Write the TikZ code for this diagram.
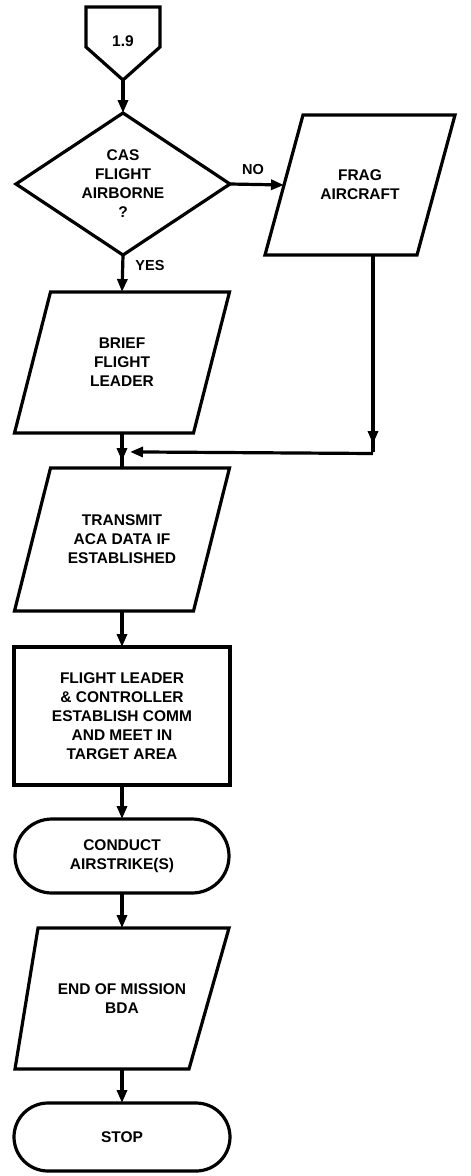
\documentclass[tikz,border=0pt]{standalone}
\usepackage{fontspec}
\setmainfont{Liberation Sans}
\usetikzlibrary{arrows.meta,calc,decorations.markings}

% outline of a slanted input/output box around a named node
\newcommand\slantbox[2]{%
  \draw[outline] ($(#1.north west)+(#2,0)$) -- (#1.north east)
    -- ($(#1.south east)+(-#2,0)$) -- (#1.south west) -- cycle;}

\begin{document}
\begin{tikzpicture}[x=1pt,y=-1pt,
  >={Triangle[width=10pt,length=13pt]},
  every node/.style={font=\bfseries\fontsize{15.5}{19}\selectfont},
  box/.style={draw=none, inner sep=0pt, outer sep=0pt, align=center},
  outline/.style={draw=black, line width=3.2pt, line join=miter},
  flow/.style={draw=black, line width=3.2pt, ->},
  midarrow/.style={draw=black, line width=3.2pt, postaction={decorate},
    decoration={markings, mark=at position #1 with {\arrow{>}}}},
  tag/.style={font=\bfseries\fontsize{14.5}{17}\selectfont}
]
\useasboundingbox (0,0) rectangle (471,1176);

% off-page connector
\node[box, minimum width=74, minimum height=73] (conn) at (123,43.5) {\raisebox{4pt}{1.9}};
\draw[outline] (conn.north west) -- (conn.north east) -- ($(conn.east)+(0,3.5)$)
  -- (conn.south) -- ($(conn.west)+(0,3.5)$) -- cycle;

% decision
\node[box, minimum width=214, minimum height=142] (cas) at (123,184)
  {CAS\\FLIGHT\\AIRBORNE\\?};
\draw[outline] (cas.north) -- (cas.east) -- (cas.south) -- (cas.west) -- cycle;

% side branch
\node[box, minimum width=190, minimum height=140] (frag) at (360,185)
  {FRAG\\AIRCRAFT};
\slantbox{frag}{38}

% main column
\node[box, minimum width=215, minimum height=141] (brief) at (122,362.5)
  {BRIEF\\FLIGHT\\LEADER};
\slantbox{brief}{36}

\node[box, minimum width=215, minimum height=143] (xmit) at (122,539.5)
  {TRANSMIT\\ACA DATA IF\\ESTABLISHED};
\slantbox{xmit}{36}

\node[box, minimum width=216, minimum height=138] (lead) at (122,716)
  {FLIGHT LEADER\\\& CONTROLLER\\ESTABLISH COMM\\AND MEET IN\\TARGET AREA};
\draw[outline] (lead.north west) rectangle (lead.south east);

\node[box, minimum width=214, minimum height=74] (conduct) at (122,856)
  {CONDUCT\\AIRSTRIKE(S)};
\draw[outline, rounded corners=37] (conduct.north west) rectangle (conduct.south east);

\node[box, minimum width=214, minimum height=141] (endm) at (122,998.5)
  {END OF MISSION\\BDA};
\draw[outline] ($(endm.north west)+(23,0)$) -- (endm.north east)
  -- ($(endm.south east)+(-40,0)$) -- (endm.south west) -- cycle;

\node[box, minimum width=216, minimum height=68] (stop) at (122,1137) {STOP};
\draw[outline, rounded corners=34] (stop.north west) rectangle (stop.south east);

% connectors
\draw[flow] (conn.south) -- (cas.north);
\draw[flow] (cas.east) -- ($(frag.west)+(19,0)$);
\node[tag] (no) at (253,170) {NO};
\draw[flow] (cas.south) -- (brief.north);
\node[tag] (yes) at (150,266) {YES};

\coordinate (merge) at ($(brief.south)!0.54!(xmit.north)$);
\coordinate (fragfoot) at ($(frag.south)+(13,0)$);
\coordinate (corner) at (fragfoot |- merge);
\draw[midarrow=0.96] (fragfoot) -- (corner);
\draw[flow, line join=miter] ($(corner)+(0,1.6)$) -- ($(merge)+(8,0)$);

\draw[midarrow=0.8] (brief.south) -- (xmit.north);
\draw[flow] (xmit.south) -- (lead.north);
\draw[flow] (lead.south) -- (conduct.north);
\draw[flow] (conduct.south) -- (endm.north);
\draw[flow] (endm.south) -- (stop.north);
\end{tikzpicture}
\end{document}
